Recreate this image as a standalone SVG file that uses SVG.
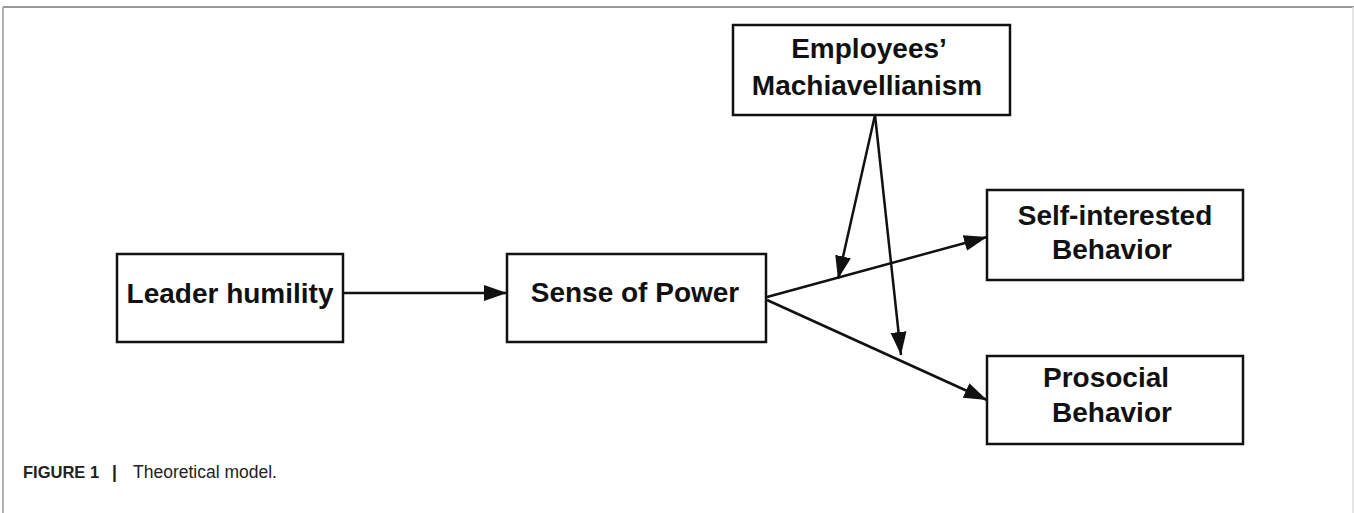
<svg xmlns="http://www.w3.org/2000/svg" width="1354" height="513" viewBox="0 0 1354 513">
<style>
.box{fill:#fff;stroke:#111;stroke-width:2.5}
.lbl{font-family:"Liberation Sans",Arial,sans-serif;font-weight:bold;font-size:28px;fill:#111;text-anchor:middle}
.edge{stroke:#111;stroke-width:2.5;fill:none;marker-end:url(#ah)}
.cap{font-family:"Liberation Sans",Arial,sans-serif;font-size:17.5px;fill:#222}
</style>
<defs>
<marker id="ah" markerUnits="userSpaceOnUse" markerWidth="24" markerHeight="20" refX="23" refY="10" orient="auto">
<path d="M0,2 L23,10 L0,18 Z" fill="#111"/>
</marker>
</defs>
<rect width="1354" height="513" fill="#fff"/>
<g id="frame">
<line x1="3" y1="7" x2="1354" y2="7" stroke="#777" stroke-width="1.5"/>
<line x1="3" y1="7" x2="3" y2="513" stroke="#999" stroke-width="1.5"/>
<line x1="1353" y1="7" x2="1353" y2="513" stroke="#ddd" stroke-width="1.5"/>
</g>
<g id="connectors">
<line class="edge" x1="343" y1="293" x2="507" y2="293"/>
<line class="edge" x1="767" y1="297" x2="987" y2="237"/>
<line class="edge" x1="767" y1="300" x2="987" y2="400"/>
<line class="edge" x1="875" y1="115" x2="838" y2="279"/>
<line class="edge" x1="875" y1="115" x2="901" y2="355"/>
</g>
<g id="leader">
<rect class="box" x="117" y="254" width="226" height="88"/>
<text class="lbl" x="230" y="303">Leader humility</text>
</g>
<g id="power">
<rect class="box" x="507" y="254" width="259" height="88"/>
<text class="lbl" x="635" y="302">Sense of Power</text>
</g>
<g id="mach">
<rect class="box" x="733" y="25" width="277" height="90"/>
<text class="lbl" x="869" y="58">Employees’</text>
<text class="lbl" x="867" y="95">Machiavellianism</text>
</g>
<g id="self">
<rect class="box" x="987" y="190" width="256" height="90"/>
<text class="lbl" x="1115" y="225">Self-interested</text>
<text class="lbl" x="1112" y="259">Behavior</text>
</g>
<g id="prosocial">
<rect class="box" x="987" y="356" width="256" height="88"/>
<text class="lbl" x="1106" y="387">Prosocial</text>
<text class="lbl" x="1112" y="422">Behavior</text>
</g>
<g id="caption">
<text class="cap" x="23" y="478"><tspan font-weight="bold" font-size="16.5">FIGURE 1</tspan><tspan x="112" font-weight="bold">|</tspan><tspan x="133">Theoretical model.</tspan></text>
</g>
</svg>
